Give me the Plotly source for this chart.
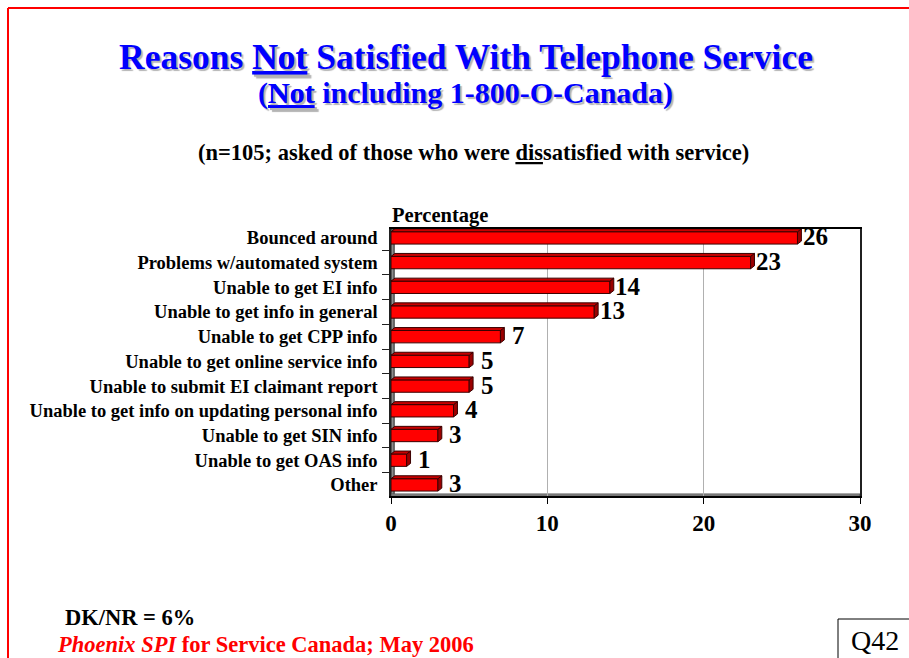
import plotly.graph_objects as go

# Survey results: reasons for dissatisfaction (percent of respondents)
categories = [
    "Bounced around",
    "Problems w/automated system",
    "Unable to get EI info",
    "Unable to get info in general",
    "Unable to get CPP info",
    "Unable to get online service info",
    "Unable to submit EI claimant report",
    "Unable to get info on updating personal info",
    "Unable to get SIN info",
    "Unable to get OAS info",
    "Other",
]
values = [26, 23, 14, 13, 7, 5, 5, 4, 3, 1, 3]
x_ticks = [0, 10, 20, 30]

W, H = 909, 658
FONT = "Liberation Serif"

# plot area in pixels
PX0, PX1 = 391, 860
PY0, PY1 = 229, 496


def px(x):
    return x / W


def py(y):
    return 1 - y / H


idx = list(range(len(categories)))
BAR_W = 0.5
DX, DY = 0.25, 0.12  # depth of the 3-D bar faces, in data units

fig = go.Figure()
fig.add_trace(go.Bar(
    y=idx, x=values, orientation="h", width=BAR_W,
    marker=dict(color="#FF0000", line=dict(color="#3a0000", width=1)),
    hoverinfo="skip",
))

shapes = []
# left wall and floor of the 3-D plot box
shapes.append(dict(type="rect", xref="x", yref="paper", x0=0, x1=DX * 0.8,
                   y0=py(PY1), y1=py(PY0), fillcolor="#8c8c8c",
                   line=dict(color="#202020", width=1), layer="below"))
shapes.append(dict(type="rect", xref="x", yref="paper", x0=0, x1=30,
                   y0=py(PY1), y1=py(PY1 - 2), fillcolor="#a0a0a0",
                   line=dict(color="#505050", width=1), layer="below"))
for i, v in zip(idx, values):
    top = i - BAR_W / 2
    bot = i + BAR_W / 2
    # right side face
    shapes.append(dict(
        type="path", xref="x", yref="y",
        path=f"M {v},{top} L {v + DX},{top - DY} L {v + DX},{bot - DY} L {v},{bot} Z",
        fillcolor="#9a0000", line=dict(color="#3a0000", width=1)))
    # top face
    shapes.append(dict(
        type="path", xref="x", yref="y",
        path=f"M 0,{top} L {DX},{top - DY} L {v + DX},{top - DY} L {v},{top} Z",
        fillcolor="#c80000", line=dict(color="#3a0000", width=1)))

# red page frame and question box
shapes.append(dict(type="line", xref="paper", yref="paper", x0=px(8), x1=px(8),
                   y0=0, y1=py(8), line=dict(color="#FF0000", width=2)))
shapes.append(dict(type="line", xref="paper", yref="paper", x0=px(8), x1=1,
                   y0=py(8), y1=py(8), line=dict(color="#FF0000", width=2)))
shapes.append(dict(type="rect", xref="paper", yref="paper", x0=px(838), x1=px(915),
                   y0=py(665), y1=py(619), line=dict(color="black", width=1)))

annotations = []
for i, v in zip(idx, values):
    annotations.append(dict(
        x=v, y=i, xref="x", yref="y", text=str(v), showarrow=False,
        xanchor="center", yanchor="middle", xshift=18, yshift=1,
        font=dict(family=FONT, size=25, color="black", weight="bold")))

SHADOW = "2px 2px 1px #b4b4b4"
annotations += [
    dict(x=px(466), y=py(57), xref="paper", yref="paper",
         text="Reasons <u>Not</u> Satisfied With Telephone Service",
         showarrow=False, xanchor="center", yanchor="middle",
         font=dict(family=FONT, size=35.5, color="#0000FF", weight="bold", shadow=SHADOW)),
    dict(x=px(465), y=py(93), xref="paper", yref="paper",
         text="(<u>Not</u> including 1-800-O-Canada)",
         showarrow=False, xanchor="center", yanchor="middle",
         font=dict(family=FONT, size=30, color="#0000FF", weight="bold", shadow=SHADOW)),
    dict(x=px(473), y=py(153), xref="paper", yref="paper",
         text="(n=105; asked of those who were <u>dis</u>satisfied with service)",
         showarrow=False, xanchor="center", yanchor="middle",
         font=dict(family=FONT, size=22.5, color="black", weight="bold")),
    dict(x=px(390), y=py(216), xref="paper", yref="paper", text="Percentage",
         showarrow=False, xanchor="left", yanchor="middle",
         font=dict(family=FONT, size=20.5, color="black", weight="bold")),
    dict(x=px(63), y=py(617), xref="paper", yref="paper", text="DK/NR = 6%",
         showarrow=False, xanchor="left", yanchor="middle",
         font=dict(family=FONT, size=22.5, color="black", weight="bold")),
    dict(x=px(55), y=py(644), xref="paper", yref="paper",
         text="<i>Phoenix SPI</i> for Service Canada; May 2006",
         showarrow=False, xanchor="left", yanchor="middle",
         font=dict(family=FONT, size=22.5, color="#FF0000", weight="bold")),
    dict(x=px(875), y=py(640), xref="paper", yref="paper", text="Q42",
         showarrow=False, xanchor="center", yanchor="middle",
         font=dict(family=FONT, size=28, color="black")),
]

fig.update_layout(
    width=W, height=H,
    margin=dict(l=0, r=0, t=0, b=0, autoexpand=False),
    paper_bgcolor="white", plot_bgcolor="white",
    showlegend=False,
    shapes=shapes, annotations=annotations,
    xaxis=dict(
        domain=[px(PX0), px(PX1)], range=[0, 30],
        tickmode="array", tickvals=x_ticks,
        tickfont=dict(family=FONT, size=23, color="black", weight="bold"),
        ticks="outside", ticklen=6, tickcolor="black",
        showgrid=True, gridcolor="#b0b0b0", gridwidth=1,
        showline=True, linecolor="black", linewidth=1.5, mirror=True,
        zeroline=False, fixedrange=True,
    ),
    yaxis=dict(
        domain=[py(PY1), py(PY0)], range=[10.45, -0.36],
        tickmode="array", tickvals=idx, ticktext=categories,
        tickfont=dict(family=FONT, size=18.5, color="black", weight="bold"),
        ticks="", ticklabelstandoff=8,
        minor=dict(tick0=0.5, dtick=1, ticks="outside", ticklen=7, tickcolor="#202020"),
        showgrid=False, showline=True, linecolor="#202020", linewidth=1.5, mirror=True,
        zeroline=False, fixedrange=True,
    ),
)

fig.write_html("out.html")
